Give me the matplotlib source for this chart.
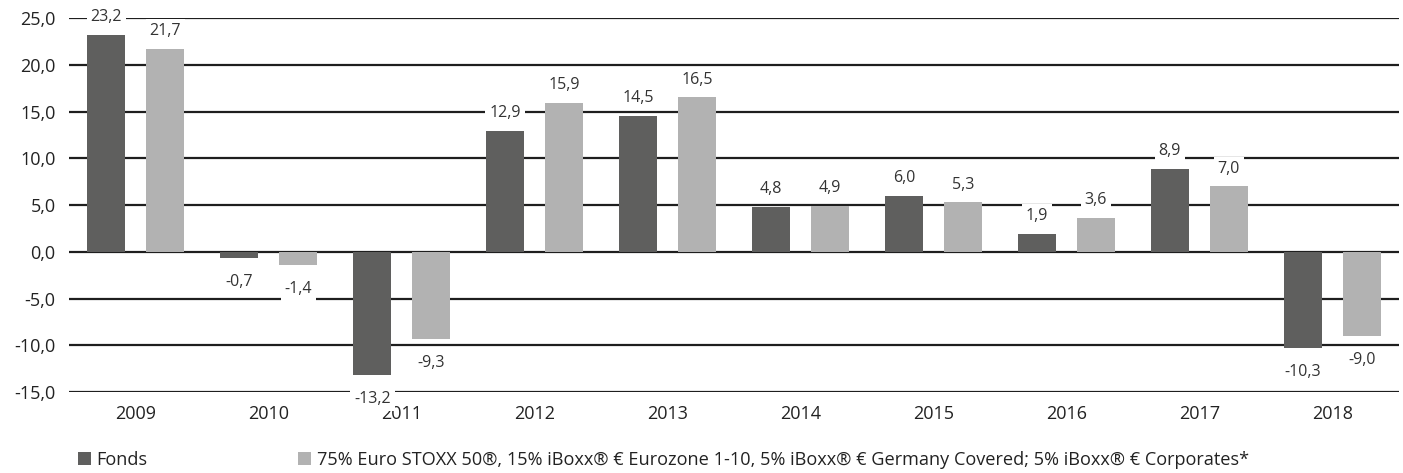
import matplotlib
matplotlib.use("Agg")
import matplotlib.pyplot as plt
import numpy as np

plt.rcParams['font.family'] = ['Open Sans', 'DejaVu Sans']

years = ["2009", "2010", "2011", "2012", "2013", "2014", "2015", "2016", "2017", "2018"]
fonds = [23.2, -0.7, -13.2, 12.9, 14.5, 4.8, 6.0, 1.9, 8.9, -10.3]
bench = [21.7, -1.4, -9.3, 15.9, 16.5, 4.9, 5.3, 3.6, 7.0, -9.0]
yticks = [25, 20, 15, 10, 5, 0, -5, -10, -15]
series_names = ["Fonds",
                "75% Euro STOXX 50®, 15% iBoxx® € Eurozone 1-10, 5% iBoxx® € Germany Covered; 5% iBoxx® € Corporates*"]
colors = ["#5f5f5e", "#b2b2b2"]

fig = plt.figure(figsize=(14.03, 4.73), dpi=100)
ax = fig.add_axes([0.0495, 0.171, 0.9475, 0.791])

x = np.arange(len(years))
w = 0.285
off = 0.222
for vals, sign, col, name in [(fonds, -1, colors[0], series_names[0]), (bench, 1, colors[1], series_names[1])]:
    ax.bar(x + sign * off, vals, width=w, color=col, zorder=3, label=name)
    for xi, v in zip(x + sign * off, vals):
        txt = f"{v:.1f}".replace(".", ",")
        if v >= 0:
            ax.annotate(txt, (xi, v), xytext=(0, 7), textcoords="offset points",
                        ha="center", va="bottom", fontsize=11.5, color="#333333", zorder=5,
                        bbox=dict(boxstyle="square,pad=0.25", fc="white", ec="none"))
        else:
            ax.annotate(txt, (xi, v), xytext=(0, -11.5), textcoords="offset points",
                        ha="center", va="top", fontsize=11.5, color="#333333", zorder=5,
                        bbox=dict(boxstyle="square,pad=0.25", fc="white", ec="none"))

for t in yticks:
    ax.axhline(t, color="#1e1e1e", lw=1.6, zorder=1)

ax.set_ylim(-15, 25)
ax.set_xlim(-0.5, len(years) - 0.5)
ax.set_yticks(yticks)
ax.set_yticklabels([f"{t:.1f}".replace(".", ",") for t in yticks], fontsize=13, color="#222222")
ax.set_xticks(x)
ax.set_xticklabels(years, fontsize=13, color="#222222")
ax.tick_params(axis="both", length=0)
ax.tick_params(axis="x", pad=9)
ax.tick_params(axis="y", pad=10)
for s in ax.spines.values():
    s.set_visible(False)

fig.legend(loc="center left", bbox_to_anchor=(0.0556, 0.027), ncol=2, frameon=False,
           borderpad=0, borderaxespad=0,
           fontsize=13.1, handlelength=0.7, handleheight=0.7, handletextpad=0.3,
           columnspacing=8.3, labelcolor="#222222")

fig.savefig("out.png", dpi=100)
